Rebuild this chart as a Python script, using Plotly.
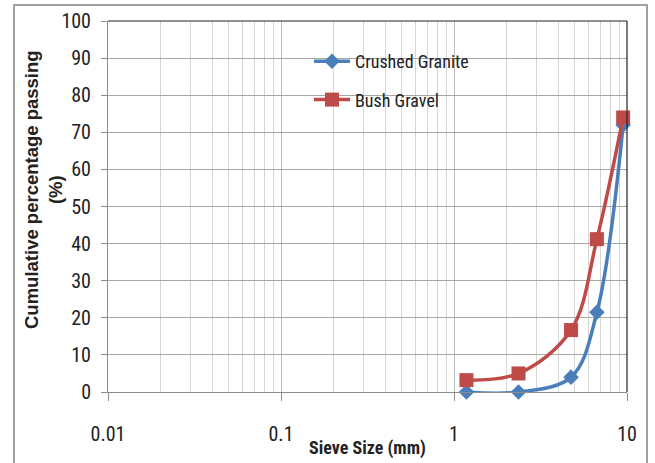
import plotly.graph_objects as go

sieve_sizes = [1.18, 2.36, 4.75, 6.7, 9.5]
crushed_granite = [0, 0, 4, 21.5, 72]
bush_gravel = [3.2, 5, 16.7, 41.2, 74]
x_tick_vals = [0.01, 0.1, 1, 10]
x_tick_text = ["0.01", "0.1", "1", "10"]
y_tick_vals = [0, 10, 20, 30, 40, 50, 60, 70, 80, 90, 100]

NARROW = "Liberation Sans Narrow, Arial Narrow, Roboto Condensed, sans-serif"

W, H = 655, 463
L, R, T, B = 108, 28, 21, 71
pw, ph = W - L - R, H - T - B

def px(xpix):
    return (xpix - L) / pw

def py(ypix):
    return (H - B - ypix) / ph

fig = go.Figure()
fig.add_trace(go.Scatter(
    x=sieve_sizes, y=crushed_granite, name="Crushed Granite",
    mode="lines+markers", line=dict(color="#4A7EBB", width=3.5, shape="spline", smoothing=1.0),
    marker=dict(symbol="diamond", size=12, color="#4A7EBB"),
    cliponaxis=False, legendgroup="a"))
fig.add_trace(go.Scatter(
    x=sieve_sizes, y=bush_gravel, name="Bush Gravel",
    mode="lines+markers", line=dict(color="#BE4B48", width=3.5, shape="spline", smoothing=1.0),
    marker=dict(symbol="square", size=14, color="#BE4B48"),
    cliponaxis=False, legendgroup="b"))

fig.update_layout(
    width=W, height=H,
    margin=dict(l=L, r=R, t=T, b=B, autoexpand=False),
    paper_bgcolor="white", plot_bgcolor="white",
    showlegend=True,
    legend=dict(x=px(309), y=py(43), xanchor="left", yanchor="top",
                font=dict(family=NARROW, size=18, color="#222"),
                bgcolor="rgba(0,0,0,0)", tracegroupgap=12, itemwidth=36),
    xaxis=dict(type="log", range=[-2, 1], tickvals=x_tick_vals, ticktext=x_tick_text,
               automargin=False,
               showgrid=True, gridcolor="#BDBDBD", gridwidth=1,
               minor=dict(dtick="D1", showgrid=True, gridcolor="#D6D6D6", gridwidth=1, ticks=""),
               ticks="outside", ticklen=8, tickcolor="#8C8C8C",
               showline=True, linecolor="#8C8C8C", linewidth=1,
               ticklabelstandoff=16,
               tickfont=dict(family=NARROW, size=20, color="#222"),
               zeroline=False),
    yaxis=dict(range=[0, 100], tickvals=y_tick_vals, automargin=False,
               showgrid=True, gridcolor="#A6A6A6", gridwidth=1,
               ticks="outside", ticklen=6, tickcolor="#8C8C8C",
               showline=True, linecolor="#8C8C8C", linewidth=1,
               ticklabelstandoff=6,
               tickfont=dict(family=NARROW, size=20, color="#222"),
               zeroline=False),
    annotations=[
        dict(text="<b>Sieve Size (mm)</b>", xref="paper", yref="paper",
             x=px(367), y=py(448), xanchor="center", yanchor="middle", showarrow=False,
             font=dict(family=NARROW, size=18, color="#222")),
        dict(text="<b>Cumulative percentage passing<br>(%)</b>", xref="paper", yref="paper",
             x=px(44), y=py(190), xanchor="center", yanchor="middle", showarrow=False,
             textangle=-90, font=dict(family="Liberation Sans, Arial, sans-serif", size=18.5, color="#222")),
    ],
    shapes=[
        dict(type="rect", xref="paper", yref="paper", x0=px(14), x1=px(647), y0=py(480), y1=py(5),
             line=dict(color="#A0A0A0", width=2), layer="above"),
        dict(type="line", xref="paper", yref="paper", x0=0, x1=1, y0=1, y1=1,
             line=dict(color="#222", width=1.2), layer="above"),
        dict(type="line", xref="paper", yref="paper", x0=1, x1=1, y0=0, y1=1,
             line=dict(color="#222", width=1.2), layer="above"),
    ],
)

fig.write_html("out.html", config={"displayModeBar": False},
               post_script="document.body.style.margin='0';document.body.style.overflow='hidden';")
